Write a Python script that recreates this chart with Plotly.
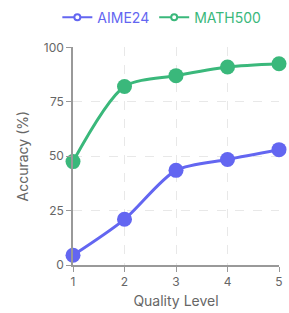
import plotly.graph_objects as go

levels = [1, 2, 3, 4, 5]
aime24 = [4.5, 21, 43.5, 48.5, 53]
math500 = [47.5, 82, 87, 91, 92.5]
y_ticks = [0, 25, 50, 75, 100]

BLUE = "#6366f1"
GREEN = "#3ab87b"

fig = go.Figure()
for name, vals, col in [("AIME24", aime24, BLUE), ("MATH500", math500, GREEN)]:
    fig.add_trace(go.Scatter(x=levels, y=vals, mode="lines+markers", showlegend=False,
                             line=dict(color=col, width=3, shape="spline", smoothing=0.8),
                             marker=dict(color=col, size=15), cliponaxis=False))
    fig.add_trace(go.Scatter(x=[None], y=[None], mode="lines+markers",
                             name=f"<span style='color:{col}'>{name}</span>",
                             line=dict(color=col, width=2),
                             marker=dict(color="white", size=6, symbol="circle",
                                         line=dict(color=col, width=2))))

axis_common = dict(showline=True, linecolor="#999", linewidth=1.5, ticks="outside",
                   ticklen=5, tickcolor="#999", tickfont=dict(size=12, color="#666"),
                   showgrid=True, gridcolor="#e8e8e8", griddash="dash", zeroline=False)

fig.update_layout(
    width=289, height=313,
    margin=dict(l=73, r=6, t=40, b=48),
    plot_bgcolor="white", paper_bgcolor="white",
    font=dict(family="Inter, Roboto, sans-serif", color="#666"),
    legend=dict(orientation="h", x=0.56, xanchor="center", xref="container",
                y=0.995, yanchor="top", yref="container", itemwidth=30,
                font=dict(size=14), tracegroupgap=0),
    xaxis=dict(range=[1, 5], tickvals=levels, title=dict(text="Quality Level", font=dict(size=14, color="#666"), standoff=8),
               **axis_common),
    yaxis=dict(range=[0, 100], tickvals=y_ticks, title=dict(text="Accuracy (%)", font=dict(size=14, color="#666"), standoff=12),
               **axis_common),
)
fig.write_html("out.html", config={"displayModeBar": False},
               post_script="document.body.style.margin='0';")
